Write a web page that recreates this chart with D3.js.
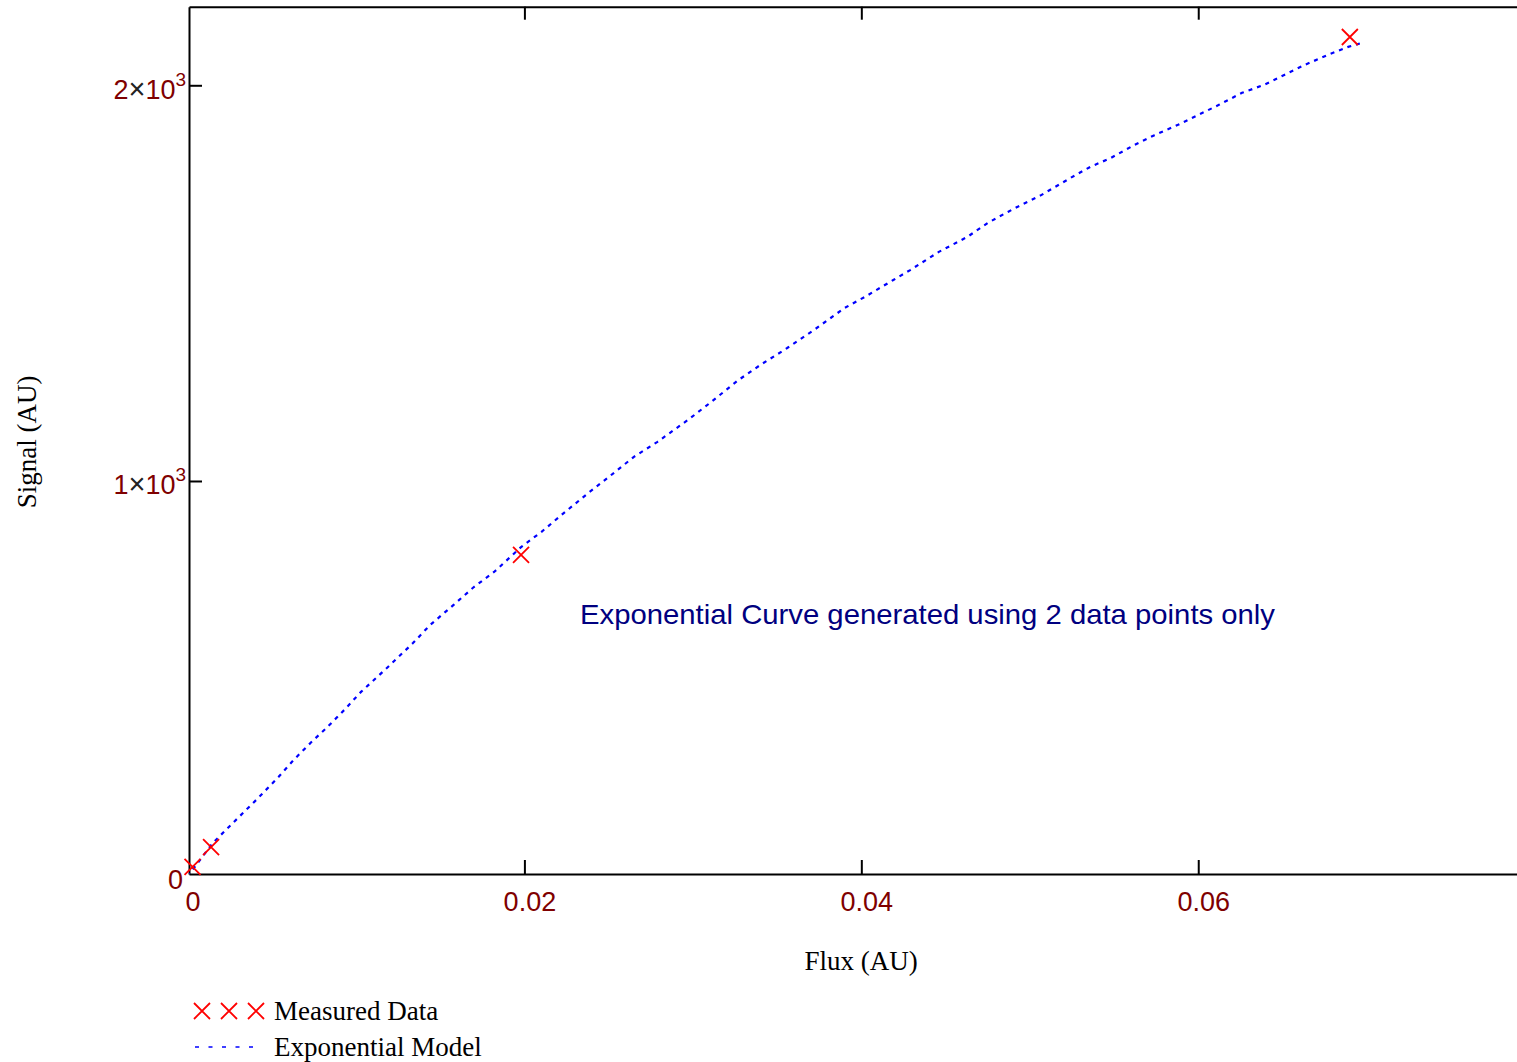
<!DOCTYPE html>
<html>
<head>
<meta charset="utf-8">
<script src="https://cdn.jsdelivr.net/npm/d3@7"></script>
<style>
  body { margin: 0; background: #fff; }
  svg { display: block; }
</style>
</head>
<body>
<div class="chart"></div>
<script>
// measured points
const fluxMeasured = [0.0003, 0.0014, 0.0198, 0.0690];
const signalMeasured = [25, 75, 813, 2122];

// exponential model curve
const fluxModel = [0, 0.0002, 0.0015, 0.0027, 0.0042, 0.0054, 0.0063, 0.0073, 0.0083, 0.0093,
  0.0103, 0.0119, 0.0134, 0.0144, 0.0158, 0.0170, 0.0182, 0.0198, 0.0210, 0.0222,
  0.0238, 0.0253, 0.0265, 0.0279, 0.0297, 0.0311, 0.0327, 0.0340, 0.0356, 0.0372,
  0.0390, 0.0402, 0.0419, 0.0429, 0.0446, 0.0463, 0.0475, 0.0487, 0.0495, 0.0507,
  0.0525, 0.0536, 0.0548, 0.0562, 0.0574, 0.0588, 0.0600, 0.0612, 0.0626, 0.0639,
  0.0651, 0.0663, 0.0677, 0.0689, 0.0697];
const signalModel = [0, 12, 85, 136, 199, 252, 295, 338, 378, 421,
  467, 530, 591, 636, 687, 732, 770, 833, 871, 914,
  970, 1020, 1061, 1099, 1154, 1200, 1255, 1293, 1336, 1382,
  1437, 1465, 1508, 1533, 1579, 1617, 1652, 1680, 1698, 1723,
  1768, 1794, 1816, 1849, 1874, 1900, 1925, 1950, 1981, 2001,
  2026, 2051, 2077, 2097, 2107];

// ticks
const xTicks = [0, 0.02, 0.04, 0.06];
const xTickLabels = ["0", "0.02", "0.04", "0.06"];
const yTicks = [0, 1000, 2000];
const yTickMant = ["0", "1", "2"];

const xDomain = [0.00009, 0.0791];
const yDomain = [6.8, 2198.6];

const W = 1517, H = 1062;
const plotLeft = 189, plotRight = 1520, plotTop = 6.7, plotBottom = 874;

const svg = d3.select(".chart")
  .append("svg")
  .attr("width", W)
  .attr("height", H);

const xScale = d3.scaleLinear().domain(xDomain).range([plotLeft, plotRight]);
const yScale = d3.scaleLinear().domain(yDomain).range([plotBottom, plotTop]);

svg.append("clipPath").attr("id", "plot-clip")
  .append("rect")
  .attr("x", plotLeft).attr("y", plotTop)
  .attr("width", plotRight - plotLeft).attr("height", plotBottom - plotTop);

const tickFont = "'Liberation Sans', Arial, sans-serif";
const serif = "'Liberation Serif', 'Times New Roman', serif";
const tickColor = "#7f0000";

// bottom axis
const gx = svg.append("g")
  .attr("transform", `translate(0,${plotBottom})`)
  .call(d3.axisBottom(xScale).tickValues(xTicks).tickSizeInner(-14).tickSizeOuter(0)
    .tickFormat((d, i) => xTickLabels[i]));
gx.select(".domain").attr("stroke", "#000").attr("stroke-width", 2);
gx.selectAll(".tick line").attr("stroke", "#000").attr("stroke-width", 2)
  .style("display", d => d === 0 ? "none" : null);
gx.selectAll(".tick text")
  .attr("x", 5).attr("y", 37).attr("dy", null)
  .attr("fill", tickColor)
  .style("font-family", tickFont).style("font-size", "27px");

// top axis (frame)
const gt = svg.append("g")
  .attr("transform", `translate(0,${plotTop})`)
  .call(d3.axisTop(xScale).tickValues(xTicks.slice(1)).tickSizeInner(-13).tickSizeOuter(0)
    .tickFormat(""));
gt.select(".domain").attr("stroke", "#000").attr("stroke-width", 2);
gt.selectAll(".tick line").attr("stroke", "#000").attr("stroke-width", 2);

// left axis
const gy = svg.append("g")
  .attr("transform", `translate(${plotLeft},0)`)
  .call(d3.axisLeft(yScale).tickValues(yTicks).tickSizeInner(-13).tickSizeOuter(0));
gy.select(".domain").attr("stroke", "#000").attr("stroke-width", 2);
gy.selectAll(".tick line").attr("stroke", "#000").attr("stroke-width", 2)
  .style("display", d => d === 0 ? "none" : null);
gy.selectAll(".tick text").each(function (d, i) {
  const t = d3.select(this)
    .text(null)
    .attr("x", d === 0 ? -6 : -3)
    .attr("dy", "0.36em")
    .attr("text-anchor", "end")
    .style("font-family", tickFont).style("font-size", "27px")
    .attr("fill", tickColor);
  if (d === 0) {
    t.attr("y", 2).text(yTickMant[i]);
  } else {
    t.attr("y", 3);
    t.append("tspan").text(yTickMant[i]);
    t.append("tspan").attr("fill", "#222").style("font-size", "29px").text("×");
    t.append("tspan").text("10");
    t.append("tspan").attr("dy", "-13").style("font-size", "19px").text("3");
  }
});

// model curve
const modelData = fluxModel.map((f, i) => ({ x: f, y: signalModel[i] }));
const line = d3.line().x(d => xScale(d.x)).y(d => yScale(d.y));
svg.append("path")
  .datum(modelData)
  .attr("clip-path", "url(#plot-clip)")
  .attr("d", line)
  .attr("fill", "none")
  .attr("stroke", "#0000ff")
  .attr("stroke-width", 2.2)
  .attr("stroke-dasharray", "4,5");

// measured markers
const cross = "M-8,-8L8,8M-8,8L8,-8";
const measured = fluxMeasured.map((f, i) => ({ x: f, y: signalMeasured[i] }));
svg.selectAll(".meas")
  .data(measured)
  .join("path")
  .attr("class", "meas")
  .attr("transform", d => `translate(${xScale(d.x)},${yScale(d.y)})`)
  .attr("d", cross)
  .attr("fill", "none")
  .attr("stroke", "#ff0000")
  .attr("stroke-width", 1.8);

// annotation
svg.append("text")
  .attr("x", 580).attr("y", 624)
  .attr("fill", "#000080")
  .attr("textLength", 695).attr("lengthAdjust", "spacingAndGlyphs")
  .style("font-family", tickFont).style("font-size", "28px")
  .text("Exponential Curve generated using 2 data points only");

// axis titles
svg.append("text")
  .attr("x", 861).attr("y", 970)
  .attr("text-anchor", "middle")
  .style("font-family", serif).style("font-size", "27px")
  .text("Flux (AU)");

svg.append("text")
  .attr("transform", "translate(36,442) rotate(-90)")
  .attr("text-anchor", "middle")
  .style("font-family", serif).style("font-size", "27px")
  .text("Signal (AU)");

// legend
const legend = svg.append("g");
[202, 229, 256].forEach(x => {
  legend.append("path")
    .attr("transform", `translate(${x},1011)`)
    .attr("d", cross)
    .attr("fill", "none")
    .attr("stroke", "#ff0000")
    .attr("stroke-width", 1.8);
});
legend.append("text")
  .attr("x", 274).attr("y", 1020)
  .style("font-family", serif).style("font-size", "27px")
  .text("Measured Data");
legend.append("line")
  .attr("x1", 195).attr("x2", 254).attr("y1", 1047).attr("y2", 1047)
  .attr("stroke", "#0000ff").attr("stroke-width", 1.6)
  .attr("stroke-dasharray", "4,9.5");
legend.append("text")
  .attr("x", 274).attr("y", 1056)
  .style("font-family", serif).style("font-size", "27px")
  .text("Exponential Model");
</script>
</body>
</html>
